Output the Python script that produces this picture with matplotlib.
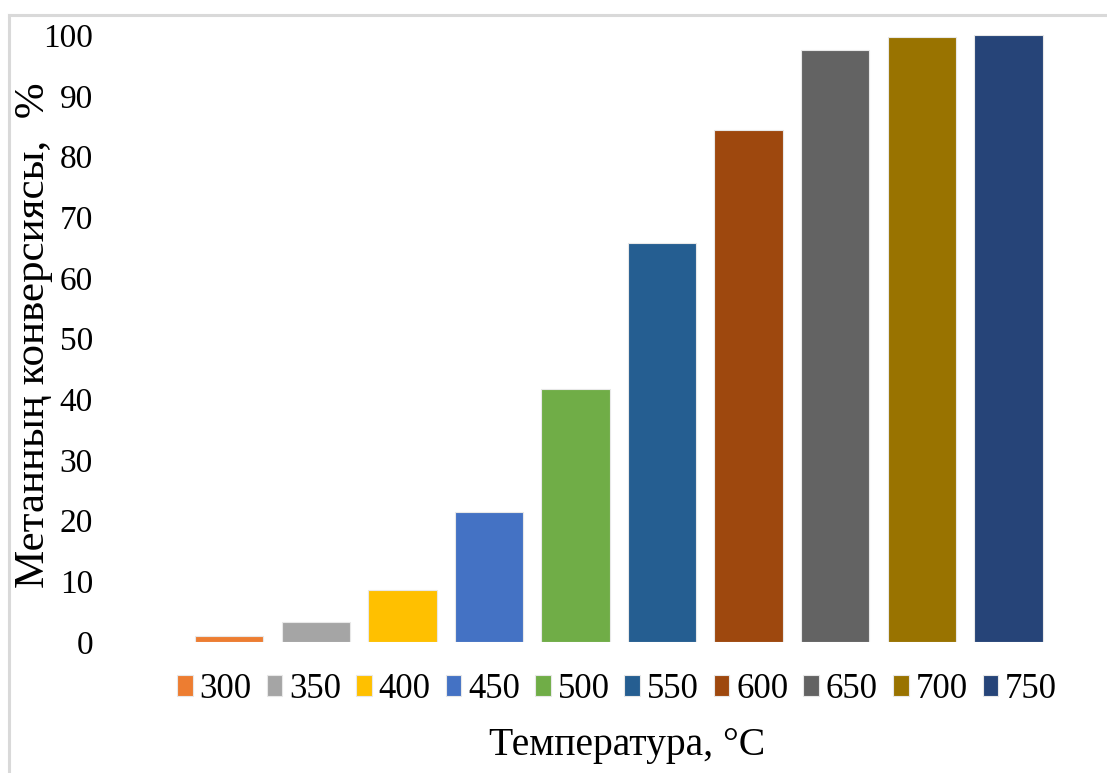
import matplotlib
matplotlib.use('Agg')
import matplotlib.pyplot as plt
from matplotlib.lines import Line2D

# Конверсия метана по температурам
temperatures = ['300', '350', '400', '450', '500', '550', '600', '650', '700', '750']
conversion = [1.0, 3.3, 8.6, 21.4, 41.7, 65.8, 84.3, 97.5, 99.7, 100.0]
colors = ['#ED7D31', '#A5A5A5', '#FFC000', '#4472C4', '#70AD47',
          '#255E91', '#9E480E', '#636363', '#997300', '#264478']

plt.rcParams['font.family'] = ['Liberation Serif', 'DejaVu Serif']

fig = plt.figure(figsize=(11.07, 7.73), dpi=100)
ax = fig.add_axes([0.168, 0.1695, 0.782, 0.785])

for i, (t, v, c) in enumerate(zip(temperatures, conversion, colors)):
    ax.bar(i, v, 0.79, color=c, edgecolor='#E8E8E8', linewidth=0.8, label=t)

ax.set_xlim(-0.5, len(temperatures) - 0.5)
ax.set_ylim(0, 100)
ax.set_yticks(range(0, 101, 10))
ax.set_xticks([])
ax.tick_params(axis='y', length=0, pad=67, labelsize=24)
for s in ax.spines.values():
    s.set_visible(False)

ax.set_ylabel('Метанның конверсиясы,  %', fontsize=31, va='center')
ax.yaxis.set_label_coords(-0.176, 0.506)
ax.set_xlabel('Температура, °C', fontsize=28.5, va='center')
ax.xaxis.set_label_coords(0.51, -0.170)

ax.legend(loc='center', bbox_to_anchor=(617 / 1107, 1 - 689 / 773),
          bbox_transform=fig.transFigure, ncol=10, frameon=False,
          fontsize=25, handlelength=0.45, handleheight=0.55,
          handletextpad=0.2, columnspacing=0.43, borderpad=0)

# серая рамка сверху и слева
fig.add_artist(Line2D([0.0081, 1.0], [0.981, 0.981], transform=fig.transFigure,
                      color='#D9D9D9', linewidth=2.2))
fig.add_artist(Line2D([0.0081, 0.0081], [0.0, 0.981], transform=fig.transFigure,
                      color='#D9D9D9', linewidth=2.2))

fig.savefig('out.png', dpi=100)
